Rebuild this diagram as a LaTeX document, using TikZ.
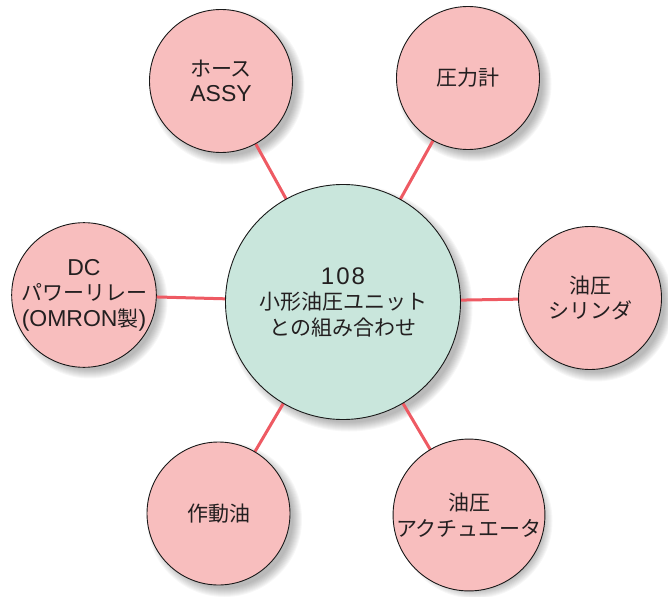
\documentclass[tikz,border=0pt]{standalone}
\usepackage{fontspec}
\newfontfamily\jp{Noto Sans CJK JP}
\newfontfamily\lat{Liberation Sans}
\newcommand{\latn}[1]{{\lat\fontsize{23}{25}\selectfont #1}}
\usetikzlibrary{backgrounds}
\definecolor{pinkfill}{HTML}{F8BEBE}
\definecolor{greenfill}{HTML}{C9E6DC}
\definecolor{linkred}{HTML}{EE5A63}
\definecolor{txt}{HTML}{231F20}
\tikzset{
  bubble/.style={circle, draw=black!90, line width=0.9pt, fill=pinkfill, minimum size=143pt, inner sep=0pt, align=center, text=txt, font=\jp\fontsize{21}{25.5}\selectfont},
  hub/.style={bubble, fill=greenfill, minimum size=235pt},
  link/.style={draw=linkred, line width=3pt},
}
\newcommand{\softshadow}[2]{%
  \foreach \k in {0,...,9}{
    \fill[black, opacity=0.03] ([shift={(6,6)}]#1.center) circle ({#2-3+\k});
  }%
}
\begin{document}
\begin{tikzpicture}[x=1pt, y=-1pt]
\useasboundingbox (0,0) rectangle (668,596);
\node[hub] (c) at (343,302) {{\lat\fontsize{24}{25}\selectfont 1\kern2pt0\kern2pt8}\\小形油圧ユニット\\との組み合わせ};
\node[bubble] (hose) at (221,81) {ホース\\\latn{ASSY}};
\node[bubble] (gauge) at (468,78) {圧力計};
\node[bubble] (relay) at (84,295) {\latn{DC}\\パワーリレー\\\latn{(OMRON}製\latn{)}};
\node[bubble] (cyl) at (590,298) {油圧\\シリンダ};
\node[bubble] (oil) at (218.5,513.5) {作動油};
\node[bubble] (act) at (469,515) {油圧\\アクチュエータ};
\begin{pgfonlayer}{background}
  \softshadow{c}{117.5}
  \softshadow{hose}{71.5}
  \softshadow{gauge}{71.5}
  \softshadow{relay}{71.5}
  \softshadow{cyl}{71.5}
  \softshadow{oil}{71.5}
  \softshadow{act}{71.5}
  \foreach \n in {hose,gauge,relay,cyl,oil,act}{
    \draw[link] (c.center) -- (\n.center);
  }
\end{pgfonlayer}
\end{tikzpicture}
\end{document}
